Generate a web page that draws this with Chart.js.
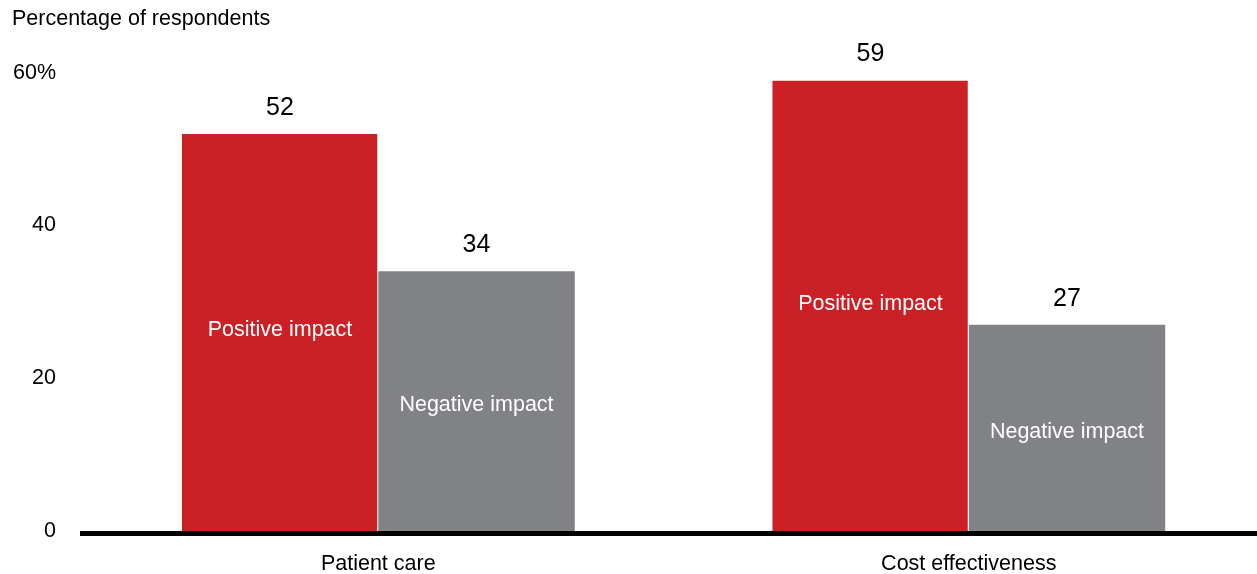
<!DOCTYPE html>
<html>
<head>
<meta charset="utf-8">
<script src="https://cdn.jsdelivr.net/npm/chart.js@4"></script>
<style>
  html, body { margin: 0; padding: 0; background: #fff; overflow: hidden; }
  #wrap { width: 1264px; height: 574px; }
</style>
</head>
<body>
<div id="wrap"><canvas id="chart" width="1264" height="574"></canvas></div>
<script>
const categories = ["Patient care", "Cost effectiveness"];
const seriesNames = ["Positive impact", "Negative impact"];
const positiveImpact = [52, 59];
const negativeImpact = [34, 27];
const yTicks = [0, 20, 40, 60];

const FONT = "'Liberation Sans', Arial, sans-serif";
const RED = "#cc2027";
const GRAY = "#808285";

// thick black baseline under the bars
const baseline = {
  id: "baseline",
  afterDatasetsDraw(chart) {
    const { ctx } = chart;
    const y0 = chart.scales.y.getPixelForValue(0);
    ctx.save();
    ctx.fillStyle = "#000";
    ctx.fillRect(80, y0, chart.width - 80, 5);
    ctx.restore();
  },
};

// value on top of each bar, series name inside it
const barLabels = {
  id: "barLabels",
  afterDatasetsDraw(chart) {
    const { ctx } = chart;
    ctx.save();
    ctx.textAlign = "center";
    chart.data.datasets.forEach((ds, i) => {
      const meta = chart.getDatasetMeta(i);
      const nudge = i === 0 ? -2 : 4; // names sit a little off-centre in the original
      meta.data.forEach((bar, j) => {
        ctx.fillStyle = "#000";
        ctx.font = "25px " + FONT;
        ctx.textBaseline = "alphabetic";
        ctx.fillText(String(ds.data[j]), bar.x, bar.y - 19);

        ctx.fillStyle = "#fff";
        ctx.font = "21.5px " + FONT;
        ctx.textBaseline = "middle";
        ctx.fillText(ds.label, bar.x, (bar.y + bar.base) / 2 + nudge);
      });
    });
    ctx.restore();
  },
};

new Chart(document.getElementById("chart"), {
  type: "bar",
  data: {
    labels: categories,
    datasets: [
      {
        label: seriesNames[0],
        data: positiveImpact,
        backgroundColor: RED,
        borderColor: "#fff",
        borderWidth: { top: 0, right: 1, bottom: 0, left: 0 },
        borderSkipped: false,
        categoryPercentage: 0.6655,
        barPercentage: 1,
      },
      {
        label: seriesNames[1],
        data: negativeImpact,
        backgroundColor: GRAY,
        borderWidth: 0,
        categoryPercentage: 0.6655,
        barPercentage: 1,
      },
    ],
  },
  options: {
    responsive: false,
    animation: false,
    layout: { padding: { left: 12, right: 0, top: 0, bottom: 0 } },
    scales: {
      x: {
        grid: { display: false, drawTicks: false },
        border: { display: false },
        ticks: { color: "#000", font: { family: FONT, size: 21.5 }, padding: 20 },
        afterFit(scale) { scale.height = 43; },
      },
      y: {
        min: 0,
        max: 60,
        afterBuildTicks(scale) { scale.ticks = yTicks.map((v) => ({ value: v })); },
        grid: { display: false, drawTicks: false },
        border: { display: false },
        ticks: {
          color: "#000",
          font: { family: FONT, size: 21.5 },
          padding: 27,
          callback: (v) => (v === 60 ? v + "%" : v),
        },
        afterFit(scale) { scale.width = 71; },
      },
    },
    plugins: {
      legend: { display: false },
      tooltip: { enabled: false },
      title: {
        display: true,
        text: "Percentage of respondents",
        align: "start",
        color: "#000",
        font: { family: FONT, size: 21.5, weight: "normal" },
        padding: { top: 6, bottom: 41 },
      },
    },
  },
  plugins: [baseline, barLabels],
});
</script>
</body>
</html>
